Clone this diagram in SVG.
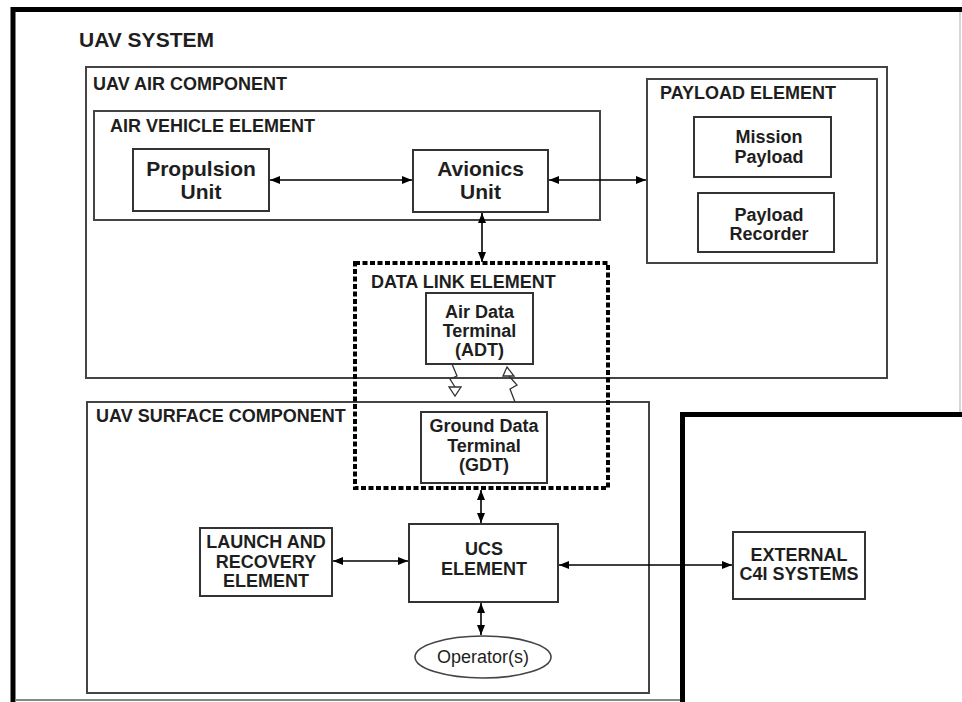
<svg xmlns="http://www.w3.org/2000/svg" width="962" height="702" viewBox="0 0 962 702">
<defs>
<style>
text{font-family:"Liberation Sans",Arial,sans-serif;fill:#1e1e1e;font-weight:bold}
.t18{font-size:18px}
.t21{font-size:21px}
.reg{font-weight:normal}
.frame{fill:none;stroke:#444;stroke-width:2}
.box{fill:#fff;stroke:#333;stroke-width:2}
.thick{fill:none;stroke:#000;stroke-width:5}
.dl{fill:none;stroke:#000;stroke-width:4;stroke-dasharray:5 2.5}
.con{fill:none;stroke:#000;stroke-width:1.6;marker-start:url(#ah);marker-end:url(#ah)}
.rf{fill:none;stroke:#333;stroke-width:1.3}
.rh{fill:#fff;stroke:#333;stroke-width:1.3}
</style>
<marker id="ah" viewBox="0 0 10 8" refX="10" refY="4" markerWidth="10" markerHeight="8" markerUnits="userSpaceOnUse" orient="auto-start-reverse">
<path d="M0,0 L10,4 L0,8 Z" fill="#000"/>
</marker>
</defs>
<rect width="962" height="702" fill="#fff"/>

<g id="uav-system">
<path class="thick" d="M13,702 V9.5 H962"/>
<line x1="960" y1="12" x2="960" y2="412" stroke="#c8c8c8" stroke-width="1.5"/>
<line x1="15" y1="700" x2="681" y2="700" stroke="#888" stroke-width="2"/>
<text class="t21" x="79" y="47">UAV SYSTEM</text>
</g>

<g id="external-boundary">
<path class="thick" d="M962,414.5 H682.5 V702"/>
</g>

<g id="air-component">
<rect class="frame" x="86" y="67" width="801" height="311"/>
<text class="t18" x="93" y="90">UAV AIR COMPONENT</text>
</g>

<g id="air-vehicle-element">
<rect class="frame" x="94" y="111" width="506" height="109"/>
<text class="t18" x="110" y="132">AIR VEHICLE ELEMENT</text>
</g>

<g id="propulsion-unit">
<rect class="box" x="133" y="149" width="136" height="62"/>
<text class="t21" x="201" y="176" text-anchor="middle">Propulsion</text>
<text class="t21" x="201" y="199" text-anchor="middle">Unit</text>
</g>

<g id="avionics-unit">
<rect class="box" x="413" y="150" width="135" height="62"/>
<text class="t21" x="480.5" y="176" text-anchor="middle">Avionics</text>
<text class="t21" x="480.5" y="199" text-anchor="middle">Unit</text>
</g>

<g id="payload-element">
<rect class="frame" x="647" y="79" width="230" height="184"/>
<text class="t18" x="660" y="99">PAYLOAD ELEMENT</text>
</g>

<g id="mission-payload">
<rect class="box" x="694" y="117" width="137" height="60"/>
<text class="t18" x="769" y="143" text-anchor="middle">Mission</text>
<text class="t18" x="769" y="163" text-anchor="middle">Payload</text>
</g>

<g id="payload-recorder">
<rect class="box" x="698" y="193" width="136" height="59"/>
<text class="t18" x="769" y="221" text-anchor="middle">Payload</text>
<text class="t18" x="769" y="240" text-anchor="middle">Recorder</text>
</g>

<g id="surface-component">
<rect class="frame" x="87" y="402" width="562" height="291"/>
<text class="t18" x="96" y="422">UAV SURFACE COMPONENT</text>
</g>

<g id="data-link-element">
<rect class="dl" x="355" y="263" width="253" height="225"/>
<text class="t18" x="371" y="288">DATA LINK ELEMENT</text>
</g>

<g id="adt">
<rect class="box" x="426" y="293" width="107" height="71"/>
<text class="t18" x="479.5" y="318" text-anchor="middle">Air Data</text>
<text class="t18" x="479.5" y="337" text-anchor="middle">Terminal</text>
<text class="t18" x="479.5" y="356" text-anchor="middle">(ADT)</text>
</g>

<g id="gdt">
<rect class="box" x="421" y="412" width="126" height="71"/>
<text class="t18" x="484" y="432" text-anchor="middle">Ground Data</text>
<text class="t18" x="484" y="452" text-anchor="middle">Terminal</text>
<text class="t18" x="484" y="471" text-anchor="middle">(GDT)</text>
</g>

<g id="launch-recovery">
<rect class="box" x="200" y="528" width="132" height="68"/>
<text class="t18" x="266" y="548" text-anchor="middle">LAUNCH AND</text>
<text class="t18" x="266" y="568" text-anchor="middle">RECOVERY</text>
<text class="t18" x="266" y="587" text-anchor="middle">ELEMENT</text>
</g>

<g id="ucs-element">
<rect class="box" x="409" y="524" width="149" height="78"/>
<text class="t18" x="484" y="555" text-anchor="middle">UCS</text>
<text class="t18" x="484" y="575" text-anchor="middle">ELEMENT</text>
</g>

<g id="operators">
<ellipse cx="483" cy="657" rx="68" ry="21" fill="#fff" stroke="#444" stroke-width="1.6"/>
<text class="t18 reg" x="483" y="663" text-anchor="middle">Operator(s)</text>
</g>

<g id="external-c4i">
<rect class="box" x="733" y="532" width="132" height="67"/>
<text class="t18" x="799" y="561" text-anchor="middle">EXTERNAL</text>
<text class="t18" x="799" y="580" text-anchor="middle">C4I SYSTEMS</text>
</g>

<g id="connectors">
<line class="con" x1="270" y1="180" x2="412" y2="180"/>
<line class="con" x1="549" y1="180" x2="646" y2="180"/>
<line class="con" x1="482" y1="213" x2="482" y2="262"/>
<line class="con" x1="481" y1="490" x2="481" y2="523"/>
<line class="con" x1="333" y1="561" x2="408" y2="561"/>
<line class="con" x1="559" y1="565" x2="732" y2="565"/>
<line class="con" x1="481" y1="603" x2="481" y2="635"/>
<g id="rf-downlink">
<polyline class="rf" points="452,364 457,376 450,379 455,387"/>
<polygon class="rh" points="449,387 461,387 455,396"/>
</g>
<g id="rf-uplink">
<polyline class="rf" points="515,402 510,389 517,385 509,376"/>
<polygon class="rh" points="503,376 514,376 507,367"/>
</g>
</g>
</svg>
